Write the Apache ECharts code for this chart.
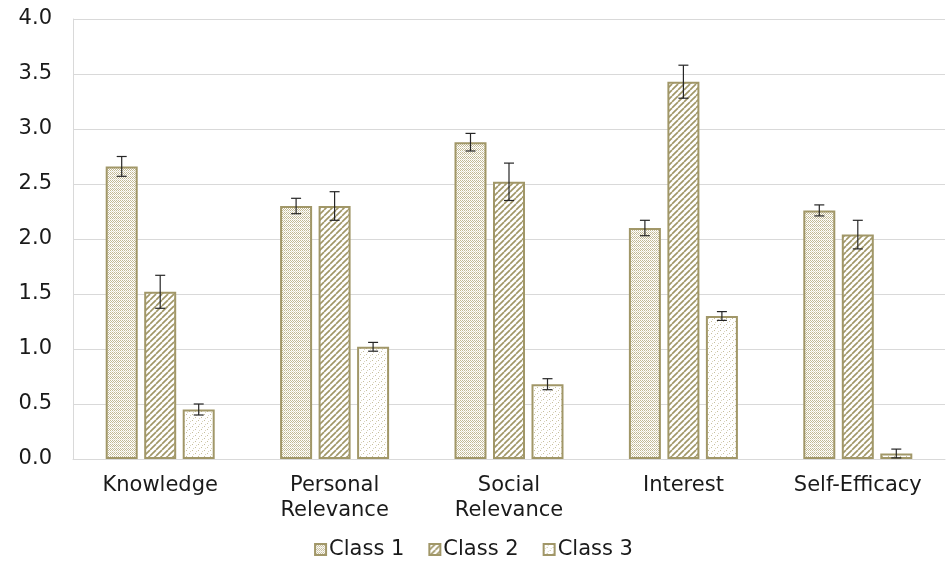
<!DOCTYPE html>
<html><head><meta charset="utf-8">
<script src="https://cdn.jsdelivr.net/npm/echarts@6/dist/echarts.min.js"></script>
<style>html,body{margin:0;padding:0;background:#fff}#c{width:947px;height:575px}</style>
</head><body><div id="c"></div>
<script>
const categories = ['Knowledge', 'Personal\nRelevance', 'Social\nRelevance', 'Interest', 'Self-Efficacy'];
const seriesNames = ['Class 1', 'Class 2', 'Class 3'];
const class1 = [2.66, 2.30, 2.88, 2.10, 2.26];
const class2 = [1.52, 2.30, 2.52, 3.43, 2.04];
const class3 = [0.45, 1.02, 0.68, 1.30, 0.05];
const class1Err = [0.09, 0.07, 0.08, 0.07, 0.05];
const class2Err = [0.15, 0.13, 0.17, 0.15, 0.13];
const class3Err = [0.05, 0.04, 0.05, 0.04, 0.04];
const yTicks = [0, 0.5, 1.0, 1.5, 2.0, 2.5, 3.0, 3.5, 4.0];

const OLIVE = '#a19768';
const FONT = 'DejaVu Sans, Liberation Sans, Arial, sans-serif';
const BAR_W = 32, GAP = 6.5;

function tile(size, draw) {
  const c = document.createElement('canvas');
  c.width = size; c.height = size;
  const ctx = c.getContext('2d');
  ctx.fillStyle = '#fff'; ctx.fillRect(0, 0, size, size);
  draw(ctx, size);
  return c;
}
const pat1 = tile(4, (ctx) => {
  ctx.fillStyle = '#c2b994';
  ctx.fillRect(0, 0, 1, 1); ctx.fillRect(2, 0, 1, 1);
  ctx.fillRect(1, 1, 1, 1); ctx.fillRect(3, 1, 1, 1);
  ctx.fillRect(0, 2, 1, 1); ctx.fillRect(2, 2, 1, 1);
  ctx.fillStyle = '#e0dbc6';
  ctx.fillRect(1, 3, 1, 1); ctx.fillRect(3, 3, 1, 1);
});
const pat2 = tile(6, (ctx, s) => {
  ctx.strokeStyle = OLIVE; ctx.lineWidth = 1.7;
  for (let k = -1; k <= 1; k++) {
    ctx.beginPath(); ctx.moveTo(k * s, s); ctx.lineTo(k * s + s, 0); ctx.stroke();
  }
});
const pat3 = tile(6, (ctx) => {
  ctx.fillStyle = '#c6bf9c';
  ctx.fillRect(0, 0, 1, 1); ctx.fillRect(3, 3, 1, 1);
  ctx.fillStyle = '#dcd7c0';
  ctx.fillRect(4, 1, 1, 1); ctx.fillRect(1, 4, 1, 1);
});
const patterns = [pat1, pat2, pat3];
const values = [class1, class2, class3];
const errs = [class1Err, class2Err, class3Err];

const series = [];
seriesNames.forEach((name, i) => {
  series.push({
    name, type: 'bar', data: values[i], barWidth: BAR_W, barGap: (GAP / BAR_W * 100) + '%',
    itemStyle: { color: { image: patterns[i], repeat: 'repeat' }, borderColor: OLIVE, borderWidth: 2 },
    emphasis: { disabled: true }
  });
});
seriesNames.forEach((name, i) => {
  const offset = (i - 1) * (BAR_W + GAP);
  series.push({
    type: 'custom', name: name + ' err', silent: true, z: 5,
    data: values[i].map((v, j) => [j, v - errs[i][j], v + errs[i][j]]),
    encode: { x: 0, y: [1, 2] },
    renderItem: (params, api) => {
      const lo = api.coord([api.value(0), api.value(1)]);
      const hi = api.coord([api.value(0), api.value(2)]);
      const x = lo[0] + offset;
      const cap = 5;
      const st = { stroke: '#262626', lineWidth: 1.2 };
      return { type: 'group', children: [
        { type: 'line', shape: { x1: x, y1: lo[1], x2: x, y2: hi[1] }, style: st },
        { type: 'line', shape: { x1: x - cap, y1: lo[1], x2: x + cap, y2: lo[1] }, style: st },
        { type: 'line', shape: { x1: x - cap, y1: hi[1], x2: x + cap, y2: hi[1] }, style: st }
      ]};
    }
  });
});

const chart = echarts.init(document.getElementById('c'));
chart.setOption({
  backgroundColor: '#fff',
  animation: false,
  textStyle: { fontFamily: FONT },
  grid: { left: 73, right: 2, top: 19, bottom: 116, containLabel: false },
  legend: {
    data: seriesNames, bottom: 10, left: 'center', icon: 'rect', itemWidth: 11, itemHeight: 11, itemGap: 24,
    textStyle: { fontSize: 21, color: '#1a1a1a', fontFamily: FONT, padding: [0, 0, 0, -2] }
  },
  xAxis: {
    type: 'category', data: categories,
    axisLine: { lineStyle: { color: '#d9d9d9', width: 1 } },
    axisTick: { show: false },
    axisLabel: { fontSize: 21, color: '#1a1a1a', margin: 14, lineHeight: 25, interval: 0 }
  },
  yAxis: {
    type: 'value', min: yTicks[0], max: yTicks[yTicks.length - 1], interval: 0.5,
    axisLine: { show: true, lineStyle: { color: '#d9d9d9' } },
    axisTick: { show: false },
    splitLine: { lineStyle: { color: '#d9d9d9', width: 1 } },
    axisLabel: { fontSize: 21, color: '#1a1a1a', margin: 21, formatter: v => v.toFixed(1) }
  },
  series
});
</script></body></html>
